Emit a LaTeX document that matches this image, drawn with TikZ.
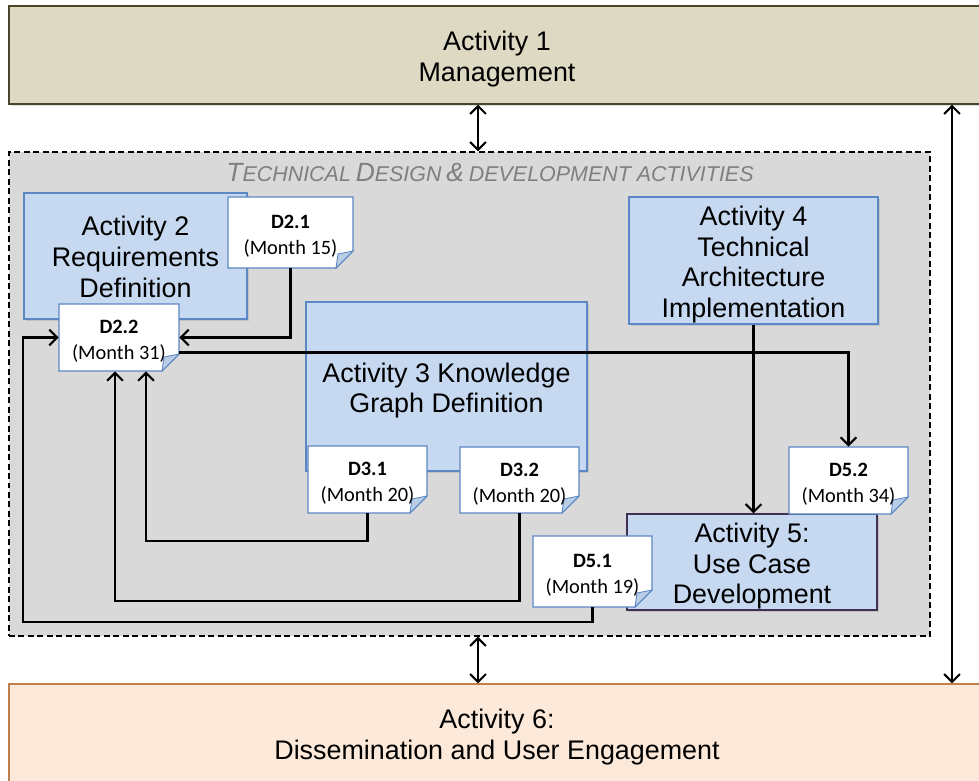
\documentclass[tikz,border=0pt]{standalone}
\usepackage{fontspec}
\setmainfont{Liberation Sans}
\newfontfamily\calib{Carlito}
\usetikzlibrary{arrows.meta,shadows,calc}
\definecolor{mgmt}{HTML}{DDD9C3}
\definecolor{mgmtline}{HTML}{4A452A}
\definecolor{techbg}{HTML}{D9D9D9}
\definecolor{actblue}{HTML}{C6D9F1}
\definecolor{actline}{HTML}{5B87C5}
\definecolor{afiveline}{HTML}{3F3151}
\definecolor{dissem}{HTML}{FDE9D9}
\definecolor{dissemline}{HTML}{C0804D}
\definecolor{notefold}{HTML}{B9CDE5}
\definecolor{titlegray}{HTML}{7F7F7F}
\newcommand\bigf{\fontsize{15.3}{17.6}\selectfont}
\newcommand\capB[1]{{\fontsize{15}{18}\selectfont #1}}
\newcommand\capS[1]{{\fontsize{12.2}{15}\selectfont #1}}
\newcommand\bigstrut{\rule{0pt}{15.7pt}}
\newcommand\smallstrut{\rule{0pt}{12.3pt}}
\newcommand\notestrut{\rule{0pt}{12pt}}
\newcommand\notebg[4]{%
  \filldraw[fill=white, draw=actline, line width=0.6pt] (#1,#2) -- (#3,#2) -- (#3,{#4-17}) -- ({#3-17},#4) -- (#1,#4) -- cycle;
  \filldraw[fill=notefold, draw=actline, line width=0.5pt] (#3,{#4-17}) -- ({#3-17},#4) -- ({#3-15},{#4-14}) -- cycle;
}
\tikzset{
  placed/.style n args={4}{at={({(#1+#3)/2},{(#2+#4)/2})},
    minimum width={(#3-#1)*0.02cm}, minimum height={(#4-#2)*0.02cm}},
  bigtext/.style={inner sep=0pt, align=center, font=\bigf},
  actbox/.style={bigtext, draw=actline, fill=actblue, line width=0.6pt,
    drop shadow={opacity=0.25, shadow xshift=1pt, shadow yshift=-1pt}},
  notetext/.style={inner sep=0pt, align=center, font=\calib\fontsize{11.6}{14.7}\selectfont},
  arr/.style={line width=1.2pt, -{Straight Barb[length=4.5pt,width=9pt]}},
  darr/.style={line width=1.2pt, {Straight Barb[length=4.5pt,width=9pt]}-{Straight Barb[length=4.5pt,width=9pt]}}
}
\begin{document}
\begin{tikzpicture}[x=0.02cm,y=-0.02cm]
\useasboundingbox (0,0) rectangle (979,780);
% Activity 1 and 6
\node[bigtext, fill=mgmt, draw=mgmtline, line width=0.6pt,
  drop shadow={opacity=0.25, shadow xshift=1pt, shadow yshift=-1pt}, placed={9}{6}{985}{104}] (a1) {\bigstrut Activity 1\\Management};
\node[bigtext, fill=dissem, draw=dissemline, line width=0.6pt,
  placed={9}{684}{985}{782}] (a6) {\bigstrut Activity 6:\\Dissemination and User Engagement};
% technical box
\node[draw=black, dash pattern=on 3.4pt off 2pt, line width=0.6pt, fill=techbg, inner sep=0pt, placed={9}{152}{930}{636}] (tech) {};
\node[text=titlegray, font=\itshape, inner sep=0pt] (title) at (490,173)
  {\capB{T}\capS{ECHNICAL} \capB{D}\capS{ESIGN} \capB{\&} \capS{DEVELOPMENT ACTIVITIES}};
% activity boxes
\node[actbox, placed={24}{193}{247}{319}] (a2) {\smallstrut Activity 2\\Requirements\\Definition};
\node[actbox, placed={306}{302}{587}{471}] (a3) {\bigstrut Activity 3 Knowledge\\Graph Definition};
\node[actbox, placed={629}{197}{878}{324}] (a4) {\bigstrut Activity 4\\Technical\\Architecture\\Implementation};
\node[actbox, draw=afiveline, placed={627}{514}{877}{610}] (a5) {\bigstrut Activity 5:\\Use Case\\Development};
% deliverable notes
\notebg{228}{197}{353}{268}
\node[notetext, placed={228}{197}{353}{268}] (d21) {\notestrut\textbf{D2.1}\\(Month 15)};
\notebg{59}{304}{179}{371}
\node[notetext, placed={59}{304}{179}{371}] (d22) {\notestrut\textbf{D2.2}\\(Month 31)};
\notebg{308}{446}{427}{513}
\node[notetext, placed={308}{446}{427}{513}] (d31) {\notestrut\textbf{D3.1}\\(Month 20)};
\notebg{460}{447}{579}{513}
\node[notetext, placed={460}{447}{579}{513}] (d32) {\notestrut\textbf{D3.2}\\(Month 20)};
\notebg{789}{447}{908}{514}
\node[notetext, placed={789}{447}{908}{514}] (d52) {\notestrut\textbf{D5.2}\\(Month 34)};
\notebg{533}{536}{652}{607}
\node[notetext, placed={533}{536}{652}{607}] (d51) {\notestrut\textbf{D5.1}\\(Month 19)};
% connectors
\coordinate (cl) at (23,622);
\coordinate (cthree) at (115,601);
\coordinate (cfour) at (146,541);
\coordinate (mx) at (478,0);
\coordinate (rx) at (952,0);
\draw[arr] (d21.south) |- (d22.east);
\draw[arr] (d51.south) |- (cl) |- (d22.west);
\draw[arr] (d32.south) |- (cthree) -- (cthree |- d22.south);
\draw[arr] (d31.south) |- (cfour) -- (cfour |- d22.south);
\draw[arr] ($(d22.east)+(0,15)$) -| (d52.north);
\draw[arr] (a4.south) -- (a4.south |- a5.north);
\draw[darr] (mx |- a1.south) -- (mx |- tech.north);
\draw[darr] (mx |- tech.south) -- (mx |- a6.north);
\draw[darr] (rx |- a1.south) -- (rx |- a6.north);
\end{tikzpicture}
\end{document}
